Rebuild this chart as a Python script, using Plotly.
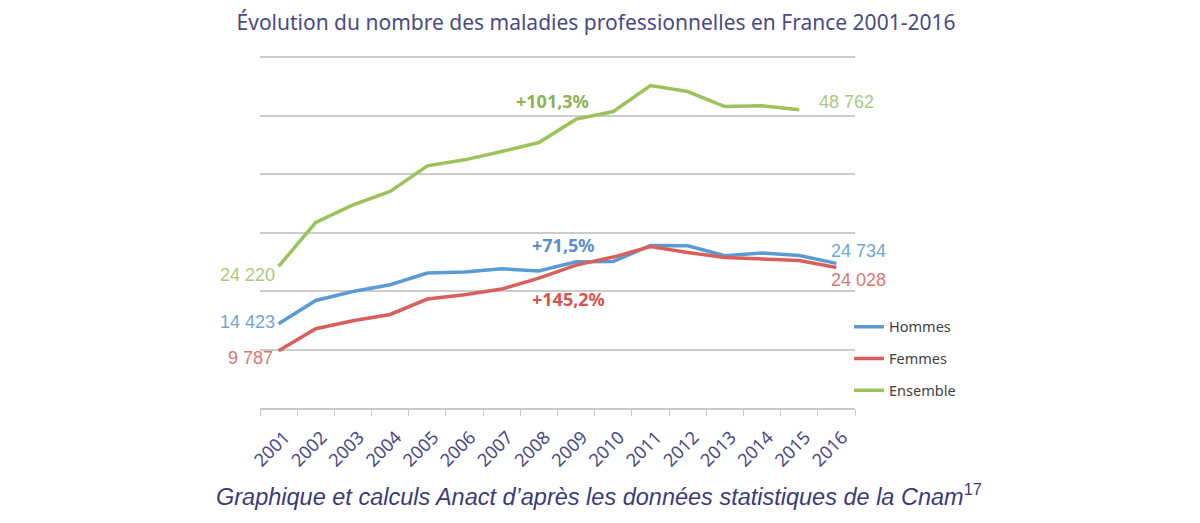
import plotly.graph_objects as go

years = [str(y) for y in range(2001, 2017)]
hommes = [14423, 18390, 19930, 21080, 23080, 23250, 23810, 23420, 25010, 25060,
          27800, 27740, 26030, 26500, 26090, 24734]
femmes = [9787, 13560, 14920, 16000, 18630, 19370, 20340, 22220, 24440, 25810,
          27620, 26600, 25740, 25470, 25230, 24028]
ensemble = [24220, 31730, 34750, 37030, 41420, 42440, 43870, 45400, 49400, 50700,
            55150, 54120, 51560, 51680, 50990]

C_BLUE = "#5b9bd5"
C_RED = "#d9605a"
C_GREEN = "#9bc35a"
NAVY = "#4a4a86"

fig = go.Figure()
fig.add_trace(go.Scatter(x=years, y=hommes, name="Hommes", mode="lines",
                         line=dict(color=C_BLUE, width=3.5), legendgroup="a"))
fig.add_trace(go.Scatter(x=years, y=femmes, name="Femmes", mode="lines",
                         line=dict(color=C_RED, width=3.5), legendgroup="b"))
fig.add_trace(go.Scatter(x=years[:len(ensemble)], y=ensemble, name="Ensemble", mode="lines",
                         line=dict(color=C_GREEN, width=3.5), legendgroup="c"))

num_font = dict(family="Liberation Sans Narrow, Liberation Sans, sans-serif", size=18)
pct_font = dict(family="Noto Sans, sans-serif", size=18)

def ann(i, y, text, color, xanchor="center", xshift=0, yshift=0, bold=False):
    f = dict(pct_font if bold else num_font)
    f["color"] = color
    if bold:
        f["weight"] = "bold"
    fig.add_annotation(x=i, y=y, text=text, showarrow=False, font=f,
                       xanchor=xanchor, xshift=xshift, yshift=yshift)

last = len(years) - 1
ann(0, ensemble[0], "24 220", "#abc97f", xanchor="right", xshift=-2, yshift=-9)
ann(0, hommes[0], "14 423", "#6fa6d8", xanchor="right", xshift=-2, yshift=2)
ann(0, femmes[0], "9 787", "#de7570", xanchor="right", xshift=-4, yshift=-7)
ann(last, ensemble[-1], "48 762", "#abc97f", xanchor="center", xshift=10, yshift=8)
ann(last, hommes[-1], "24 734", "#6fa6d8", xanchor="center", xshift=22, yshift=12)
ann(last, femmes[-1], "24 028", "#de7570", xanchor="center", xshift=22, yshift=-12)
ann(7, ensemble[7], "+101,3%", "#8db354", xanchor="center", xshift=14, yshift=42, bold=True)
ann(7, hommes[7], "+71,5%", "#5b8fcc", xanchor="center", xshift=25, yshift=26, bold=True)
ann(7, femmes[7], "+145,2%", "#d9534f", xanchor="center", xshift=30, yshift=-21, bold=True)

fig.update_layout(
    width=1200, height=523,
    paper_bgcolor="white", plot_bgcolor="white",
    margin=dict(l=252, r=353, t=48, b=123),
    title=dict(text="Évolution du nombre des maladies professionnelles en France 2001-2016",
               x=0.49, xanchor="center", y=0.972, yanchor="middle",
               font=dict(family="Noto Sans, sans-serif", size=21, color=NAVY)),
    showlegend=True,
    legend=dict(x=0.99, xanchor="left", y=0.14, yanchor="middle",
                font=dict(family="Noto Sans, sans-serif", size=14.5, color="#404040"),
                itemwidth=30, tracegroupgap=10, traceorder="grouped",
                bgcolor="rgba(0,0,0,0)"),
    xaxis=dict(type="category", range=[-0.5, len(years) - 0.5],
               showline=True, linecolor="#c8c8c8", linewidth=1.5,
               ticks="outside", tickson="boundaries", ticklen=6, tickcolor="#c8c8c8",
               showgrid=False, tickangle=-45, ticklabelstandoff=10, ticklabelshift=6,
               tickfont=dict(family="Noto Sans, sans-serif", size=18, color=NAVY)),
    yaxis=dict(range=[0, 60200], tickvals=[10000, 20000, 30000, 40000, 50000, 60000],
               showgrid=True, gridcolor="#cccccc",
               gridwidth=1.5, zeroline=False, showticklabels=False),
)

fig.add_annotation(xref="paper", yref="paper", x=0.57, y=-0.248, yanchor="middle",
                   text="<i>Graphique et calculs Anact d’après les données statistiques de la Cnam</i><sup>17</sup>",
                   showarrow=False,
                   font=dict(family="Liberation Sans, Arial, sans-serif", size=23.5, color="#3b3b7a"))

fig.write_html("out.html")
